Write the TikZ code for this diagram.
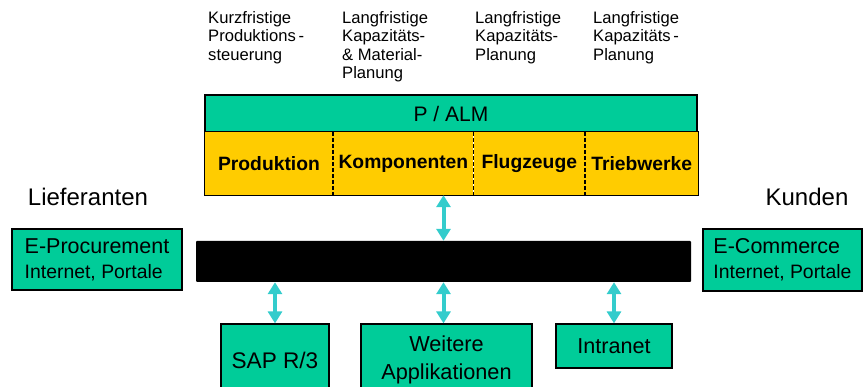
\documentclass[tikz,border=0pt]{standalone}
\usepackage{fontspec}
\setmainfont{Liberation Sans}
\usetikzlibrary{positioning,arrows.meta}
\definecolor{almgreen}{RGB}{0,204,153}
\definecolor{unitgold}{RGB}{255,204,0}
\definecolor{linkteal}{RGB}{51,204,204}
\tikzset{
    box/.style = {
        draw,
        shape=rectangle,
        fill=almgreen,
        line width=1.2pt,
        inner sep=0pt
    },
    unit/.style = {
        shape=rectangle,
        fill=unitgold,
        minimum height=63pt,
        inner sep=0pt,
        font=\fontsize{19.3}{22}\selectfont\bfseries
    },
    divider/.style = {
        draw,
        line width=1.6pt,
        dash pattern=on 4pt off 2pt
    },
    toplabel/.style = {
        anchor=north west,
        align=left,
        inner sep=0pt,
        font=\fontsize{16.6}{18.5}\selectfont
    },
    side/.style = {
        inner sep=0pt,
        font=\fontsize{24}{28}\selectfont
    },
    portal/.style = {
        box,
        align=left,
        font=\fontsize{21.5}{25}\selectfont
    },
    link/.style = {
        draw,
        line width=4pt,
        color=linkteal,
        {Triangle[width=14pt,length=12pt]}-{Triangle[width=14pt,length=12pt]}
    },
}

\begin{document}
\begin{tikzpicture}[x=1pt, y=-1pt]
            \useasboundingbox (0,0) rectangle (863,387);

            % planning horizons
            \node[toplabel] (kurz) at (208,11) {Kurzfristige\\Produktions\,-\\steuerung};
            \node[toplabel] (langa) at (342,11) {Langfristige\\Kapazitäts-\\\& Material-\\Planung};
            \node[toplabel] (langb) at (475,11) {Langfristige\\Kapazitäts-\\Planung};
            \node[toplabel] (langc) at (593,11) {Langfristige\\Kapazitäts\,-\\Planung};

            \node[box, minimum width=492pt, minimum height=37pt,
                font=\fontsize{21}{25}\selectfont] (alm) at (451,113.5) {P / ALM};
            \node[unit, minimum width=128pt] (prod) at (269,163.5) {Produktion};
            \node[unit, minimum width=140pt, right=0pt of prod] (komp) {Komponenten};
            \node[unit, minimum width=111pt, right=0pt of komp] (flug) {Flugzeuge};
            \node[unit, minimum width=113pt, right=0pt of flug] (trieb) {Triebwerke};
            \path[draw, line width=1.2pt] (prod.north west) rectangle (trieb.south east);
            \path[divider] (prod.north east) -- (prod.south east);
            \path[divider, line width=0.6pt] (komp.north east) -- (komp.south east);
            \path[divider] (flug.north east) -- (flug.south east);

            \node[side] (lief) at (88,197) {Lieferanten};
            \node[side] (kund) at (807,197) {Kunden};

            \node[shape=rectangle, fill=black, minimum width=495pt, minimum height=41pt,
                inner sep=0pt, rounded corners=1pt] (bus) at (443.5,261.5) {};

            \node[portal, minimum width=170pt, minimum height=61pt] (eproc) at (97,259.5)
                {E-Procurement\\{\fontsize{19.4}{25}\selectfont Internet, Portale}};
            \node[portal, minimum width=159pt, minimum height=62pt] (ecom) at (782.5,260)
                {E-Commerce\\{\fontsize{19.4}{25}\selectfont Internet, Portale}};

            \begin{scope}
                \clip (0,0) rectangle (863,387);
                \node[box, minimum width=108pt, minimum height=72pt,
                    font=\fontsize{22.6}{28}\selectfont] (sap) at (275,360) {SAP R/3};
                \node[box, minimum width=171pt, minimum height=72pt, align=center,
                    font=\fontsize{21.7}{28}\selectfont] (weitere) at (446.5,360) {Weitere\\Applikationen};
            \end{scope}
            \node[box, minimum width=116pt, minimum height=44pt,
                font=\fontsize{21.6}{26}\selectfont] (intranet) at (614,346) {Intranet};

            \path[link] (bus.north) -- (bus.north |- komp.south);
            \path[link] (sap.north) -- (sap.north |- bus.south);
            \path[link] (bus.south) -- (bus.south |- weitere.north);
            \path[link] (intranet.north) -- (intranet.north |- bus.south);
        \end{tikzpicture}
\end{document}
